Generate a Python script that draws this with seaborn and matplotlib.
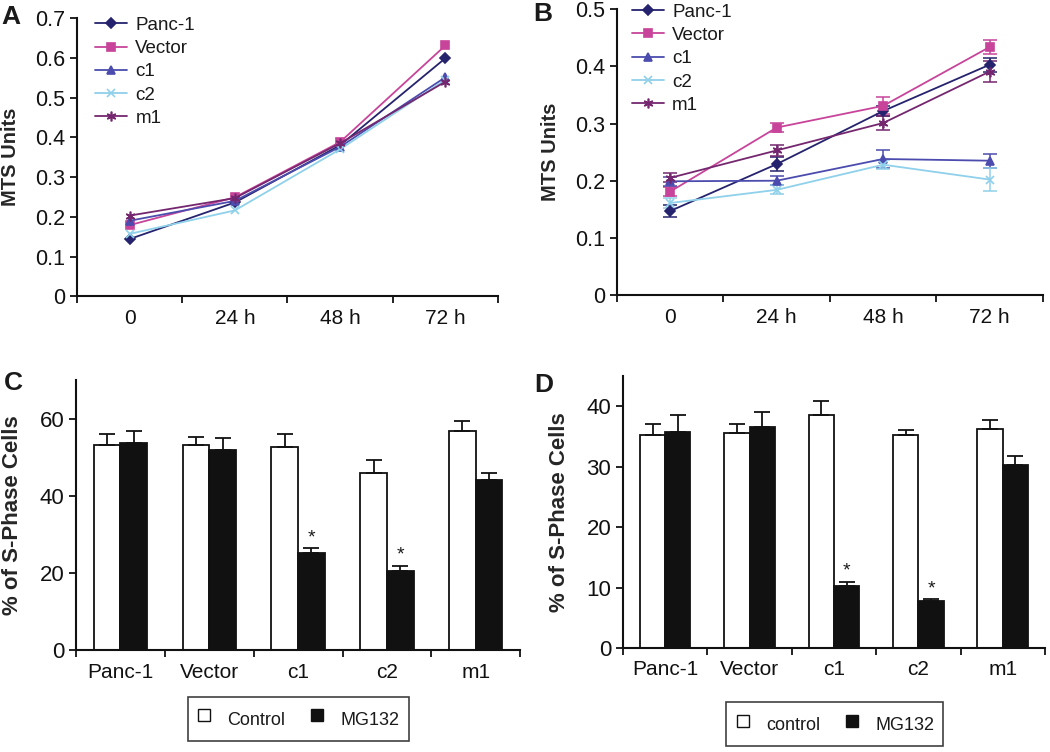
"""
Recreate four-panel figure: MTS growth curves (A, B) and
% S-phase cells with/without MG132 (C, D).
"""

import numpy as np
import pandas as pd
import matplotlib
matplotlib.use("Agg")
import matplotlib.pyplot as plt
from matplotlib.lines import Line2D
from matplotlib.ticker import FuncFormatter
import seaborn as sns

# ---------------------------- DATA -----------------------------------

TIMES = ["0", "24 h", "48 h", "72 h"]
LINES = ["Panc-1", "Vector", "c1", "c2", "m1"]

# panel A (MTS units)
A_PANC1 = [0.144, 0.236, 0.380, 0.599]
A_VECTOR = [0.179, 0.249, 0.388, 0.631]
A_C1 = [0.190, 0.240, 0.376, 0.551]
A_C2 = [0.157, 0.216, 0.370, 0.545]
A_M1 = [0.203, 0.247, 0.385, 0.540]

# panel B (MTS units) + error
B_PANC1 = [0.147, 0.229, 0.322, 0.403]
B_VECTOR = [0.181, 0.293, 0.331, 0.434]
B_C1 = [0.199, 0.200, 0.238, 0.235]
B_C2 = [0.161, 0.184, 0.228, 0.202]
B_M1 = [0.205, 0.253, 0.301, 0.391]
B_PANC1_ERR = [0.010, 0.012, 0.008, 0.012]
B_VECTOR_ERR = [0.008, 0.008, 0.015, 0.012]
B_C1_ERR = [0.008, 0.008, 0.015, 0.012]
B_C2_ERR = [0.008, 0.008, 0.008, 0.020]
B_M1_ERR = [0.008, 0.010, 0.012, 0.018]

CELLS = ["Panc-1", "Vector", "c1", "c2", "m1"]

# panel C (% S-phase)
C_CONTROL = [53.1, 53.1, 52.6, 46.0, 56.8]
C_MG132 = [53.8, 51.9, 25.1, 20.6, 44.0]
C_CONTROL_ERR = [2.8, 2.1, 3.4, 3.2, 2.7]
C_MG132_ERR = [3.0, 3.0, 1.3, 1.3, 1.8]

# panel D (% S-phase)
D_CONTROL = [35.2, 35.6, 38.5, 35.2, 36.3]
D_MG132 = [35.7, 36.6, 10.3, 7.7, 30.3]
D_CONTROL_ERR = [1.9, 1.5, 2.4, 0.9, 1.5]
D_MG132_ERR = [2.8, 2.4, 0.7, 0.4, 1.5]

STARRED = ["c1", "c2"]

# ---------------------------- STYLE ----------------------------------

COLORS = {
    "Panc-1": "#25236e",
    "Vector": "#c8449a",
    "c1": "#4b4cae",
    "c2": "#8fd0ea",
    "m1": "#74276f",
}
MARKERS = {"Panc-1": "D", "Vector": "s", "c1": "^", "c2": "x", "m1": (6, 2, 0)}
MSIZE = {"Panc-1": 5, "Vector": 5.5, "c1": 6, "c2": 6, "m1": 7}

sns.set_style("ticks")
plt.rcParams["font.family"] = ["Liberation Sans", "DejaVu Sans"]
plt.rcParams["axes.linewidth"] = 1.5
plt.rcParams["xtick.major.width"] = 1.3
plt.rcParams["ytick.major.width"] = 1.3
plt.rcParams["xtick.minor.width"] = 1.3
plt.rcParams["axes.edgecolor"] = "#111111"
plt.rcParams["text.color"] = "#1a1a1a"
plt.rcParams["xtick.color"] = "#111111"
plt.rcParams["ytick.color"] = "#111111"


def style_category_axis(ax, labels, xfs, yfs):
    n = len(labels)
    ax.set_xlim(-0.5, n - 0.5)
    ax.set_xticks(np.arange(n))
    ax.set_xticklabels(labels, fontsize=xfs)
    ax.set_xticks(np.arange(-0.5, n), minor=True)
    ax.tick_params(axis="x", which="major", length=0, pad=9)
    ax.tick_params(axis="x", which="minor", length=5, direction="out")
    ax.tick_params(axis="y", labelsize=yfs, length=5, direction="out")
    sns.despine(ax=ax)


def line_panel(ax, series, errors, ymax, leg_anchor):
    xs = np.arange(len(TIMES))
    for name in LINES:
        sns.lineplot(
            x=xs, y=series[name], color=COLORS[name], marker=MARKERS[name],
            markersize=MSIZE[name], markeredgecolor=COLORS[name],
            markeredgewidth=1.2, linewidth=1.3, label=name, ax=ax,
        )
        if errors is not None:
            ax.errorbar(
                xs, series[name], yerr=errors[name],
                fmt="none", ecolor=COLORS[name], elinewidth=1.1,
                capsize=5, capthick=1.1, zorder=1,
            )
    ax.set_ylim(0, ymax)
    ax.set_yticks(np.arange(0, ymax + 1e-9, 0.1))
    ax.yaxis.set_major_formatter(FuncFormatter(lambda v, p: f"{v:g}"))
    ax.set_xlabel("")
    ax.set_ylabel("MTS Units", fontsize=14.5, fontweight="bold", labelpad=11)
    style_category_axis(ax, TIMES, 15, 15.5)
    handles, labels = ax.get_legend_handles_labels()
    ax.legend(
        handles, labels, loc="upper left",
        bbox_to_anchor=leg_anchor, frameon=False,
        fontsize=13.5, handlelength=1.7, labelspacing=0.33,
        handletextpad=0.45, borderpad=0, borderaxespad=0,
    )


def bar_panel(ax, control, mg, control_err, mg_err, ymax, yticks,
              conds, leg_center):
    df = pd.DataFrame({
        "cell": CELLS * 2,
        "cond": [conds[0]] * len(CELLS) + [conds[1]] * len(CELLS),
        "pct": control + mg,
    })
    sns.barplot(
        data=df, x="cell", y="pct", hue="cond", order=CELLS,
        hue_order=conds, palette={conds[0]: "white", conds[1]: "#111111"},
        edgecolor="#111111", linewidth=1.3, width=0.6, errorbar=None,
        legend=False, ax=ax,
    )
    for container, errs in zip(ax.containers, [control_err, mg_err]):
        for bar, err in zip(container, errs):
            x = bar.get_x() + bar.get_width() / 2
            h = bar.get_height()
            ax.errorbar(x, h, yerr=[[0], [err]], fmt="none", ecolor="#111111",
                        elinewidth=1.3, capsize=6, capthick=1.3)
    # asterisks over the significant MG132 bars
    mg_bars = ax.containers[1]
    for bar, cell, err in zip(mg_bars, CELLS, mg_err):
        if cell in STARRED:
            ax.text(bar.get_x() + bar.get_width() / 2,
                    bar.get_height() + err + ymax * 0.006, "*",
                    ha="center", va="bottom", fontsize=14)
    ax.set_ylim(0, ymax)
    ax.set_yticks(yticks)
    ax.set_xlabel("")
    ax.set_ylabel("% of S-Phase Cells", fontsize=16, fontweight="bold",
                  labelpad=12)
    style_category_axis(ax, CELLS, 15, 16)
    handles = [
        Line2D([0], [0], marker="s", linestyle="none", markersize=8,
               markerfacecolor="white", markeredgecolor="#111111"),
        Line2D([0], [0], marker="s", linestyle="none", markersize=8,
               markerfacecolor="#111111", markeredgecolor="#111111"),
    ]
    leg = ax.legend(
        handles, conds, loc="center", bbox_to_anchor=leg_center,
        bbox_transform=ax.figure.transFigure, ncol=2, fontsize=13,
        frameon=True, fancybox=False, edgecolor="#111111",
        handlelength=0.8, handleheight=1.8, columnspacing=1.35,
        handletextpad=0.9, borderpad=0.5,
    )
    leg.get_frame().set_linewidth(1.2)


def main():
    fig = plt.figure(figsize=(10.5, 7.52), dpi=100)

    ax_a = fig.add_axes([0.0733, 0.606, 0.401, 0.370])
    ax_b = fig.add_axes([0.5876, 0.6077, 0.4057, 0.380])
    ax_c = fig.add_axes([0.0724, 0.1356, 0.423, 0.359])
    ax_d = fig.add_axes([0.5933, 0.1383, 0.4019, 0.3617])

    a_series = {"Panc-1": A_PANC1, "Vector": A_VECTOR, "c1": A_C1,
                "c2": A_C2, "m1": A_M1}
    b_series = {"Panc-1": B_PANC1, "Vector": B_VECTOR, "c1": B_C1,
                "c2": B_C2, "m1": B_M1}
    b_errors = {"Panc-1": B_PANC1_ERR, "Vector": B_VECTOR_ERR, "c1": B_C1_ERR,
                "c2": B_C2_ERR, "m1": B_M1_ERR}

    line_panel(ax_a, a_series, None, 0.7, (0.043, 1.005))
    line_panel(ax_b, b_series, b_errors, 0.5, (0.035, 1.02))

    bar_panel(ax_c, C_CONTROL, C_MG132, C_CONTROL_ERR, C_MG132_ERR,
              70, [0, 20, 40, 60], ["Control", "MG132"], (0.284, 0.044))
    bar_panel(ax_d, D_CONTROL, D_MG132, D_CONTROL_ERR, D_MG132_ERR,
              45, [0, 10, 20, 30, 40], ["control", "MG132"], (0.795, 0.037))

    # panel letters
    for letter, x, y in [("A", 0.001, 0.977), ("B", 0.508, 0.981),
                         ("C", 0.004, 0.491), ("D", 0.509, 0.488)]:
        fig.text(x, y, letter, fontsize=19, fontweight="bold",
                 ha="left", va="center")

    fig.savefig("out.png", dpi=100)
    plt.close(fig)


if __name__ == "__main__":
    main()
